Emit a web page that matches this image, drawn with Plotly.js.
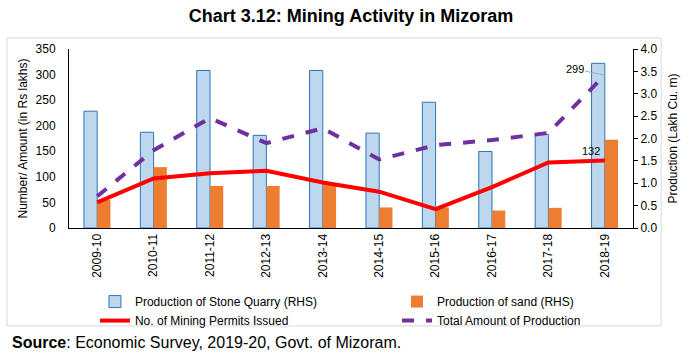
<!DOCTYPE html>
<html>
<head>
<meta charset="utf-8">
<script src="https://cdn.plot.ly/plotly-3.0.1.min.js"></script>
<style>html,body{margin:0;padding:0;background:#fff;}#chart{width:699px;height:355px;}</style>
</head>
<body>
<div id="chart"></div>
<script>
const years = ["2009-10","2010-11","2011-12","2012-13","2013-14","2014-15","2015-16","2016-17","2017-18","2018-19"];
const stoneQuarry = [2.61, 2.14, 3.52, 2.07, 3.52, 2.12, 2.81, 1.71, 2.09, 3.68];
const sand = [0.63, 1.36, 0.94, 0.94, 1.00, 0.46, 0.46, 0.39, 0.45, 1.97];
const permits = [50, 97, 107, 112, 89, 71, 37, 80, 128, 132];
const totalAmount = [62, 152, 215, 166, 195, 134, 162, 172, 186, 299];

const FONT = "Liberation Sans, Arial, sans-serif";
const last = years.length - 1;

const traces = [
  {type:"bar", name:"Production of Stone Quarry (RHS)", x:years, y:stoneQuarry, yaxis:"y", legend:"legend",
   marker:{color:"#BDD7EE", line:{color:"#2E75B6", width:1}}},
  {type:"bar", name:"Production of sand (RHS)", x:years, y:sand, yaxis:"y", legend:"legend2",
   marker:{color:"#ED7D31", line:{color:"#ED7D31", width:0}}},
  {type:"scatter", mode:"lines", name:"No. of Mining Permits Issued", x:years, y:permits, yaxis:"y2", legend:"legend",
   line:{color:"#FF0000", width:4}},
  {type:"scatter", mode:"lines", name:"Total Amount of Production", x:years, y:totalAmount, yaxis:"y2", legend:"legend2",
   line:{color:"#7030A0", width:4, dash:"dash"}}
];

const legendBase = {orientation:"v", yanchor:"top", y:-0.33, xanchor:"left",
                    font:{size:12}, bgcolor:"rgba(0,0,0,0)", traceorder:"normal", tracegroupgap:0};

const layout = {
  width:699, height:355,
  margin:{l:69, r:66, t:49, b:127, pad:0, autoexpand:false},
  paper_bgcolor:"#fff", plot_bgcolor:"#fff",
  font:{family:FONT, size:12, color:"#000"},
  title:{text:"<b>Chart 3.12: Mining Activity in Mizoram</b>", font:{family:FONT, size:18, color:"#000"},
         x:0.5, xref:"paper", xanchor:"center", y:0.955, yref:"container", yanchor:"middle"},
  showlegend:true,
  barmode:"group", bargap:0.53, bargroupgap:0,
  xaxis:{type:"category", showline:true, linecolor:"#000", linewidth:1, mirror:false,
         ticks:"", tickangle:-90, tickfont:{size:12}, showgrid:false, zeroline:false},
  yaxis:{side:"right", range:[0,4], dtick:0.5, tickformat:".1f", showgrid:false, zeroline:false,
         showline:true, linecolor:"#000", linewidth:1, ticks:"outside", ticklen:4, tickcolor:"#000",
         title:{text:"Production (Lakh Cu. m)", font:{size:12}, standoff:12}},
  yaxis2:{overlaying:"y", side:"left", range:[0,350], dtick:50, showgrid:false, zeroline:false,
          showline:true, linecolor:"#000", linewidth:1, ticks:"", ticklabelstandoff:10,
          title:{text:"Number/ Amount (in Rs lakhs)", font:{size:12}, standoff:5}},
  legend:Object.assign({}, legendBase, {x:0.046}),
  legend2:Object.assign({}, legendBase, {x:0.5816}),
  shapes:[
    {type:"rect", xref:"paper", yref:"paper", x0:-0.11, x1:1.05, y0:-0.547, y1:1.0615,
     line:{color:"#D9D9D9", width:1}, fillcolor:"rgba(0,0,0,0)", layer:"below"}
  ],
  annotations:[
    {x:years[last], y:totalAmount[last], xref:"x", yref:"y2", text:String(totalAmount[last]),
     showarrow:true, arrowhead:0, arrowwidth:1, arrowcolor:"#A6A6A6", ax:-30, ay:-6,
     font:{size:11, color:"#000"}},
    {x:years[last], y:permits[last], xref:"x", yref:"y2", text:String(permits[last]),
     showarrow:false, xshift:-14, yshift:9, font:{size:11, color:"#000"}},
    {x:-0.105, y:-0.64, xref:"paper", yref:"paper", xanchor:"left", yanchor:"middle", showarrow:false,
     text:"<b>Source</b>: Economic Survey, 2019-20, Govt. of Mizoram.", font:{size:16, color:"#000"}}
  ]
};

Plotly.newPlot("chart", traces, layout, {displayModeBar:false, staticPlot:true});
</script>
</body>
</html>
